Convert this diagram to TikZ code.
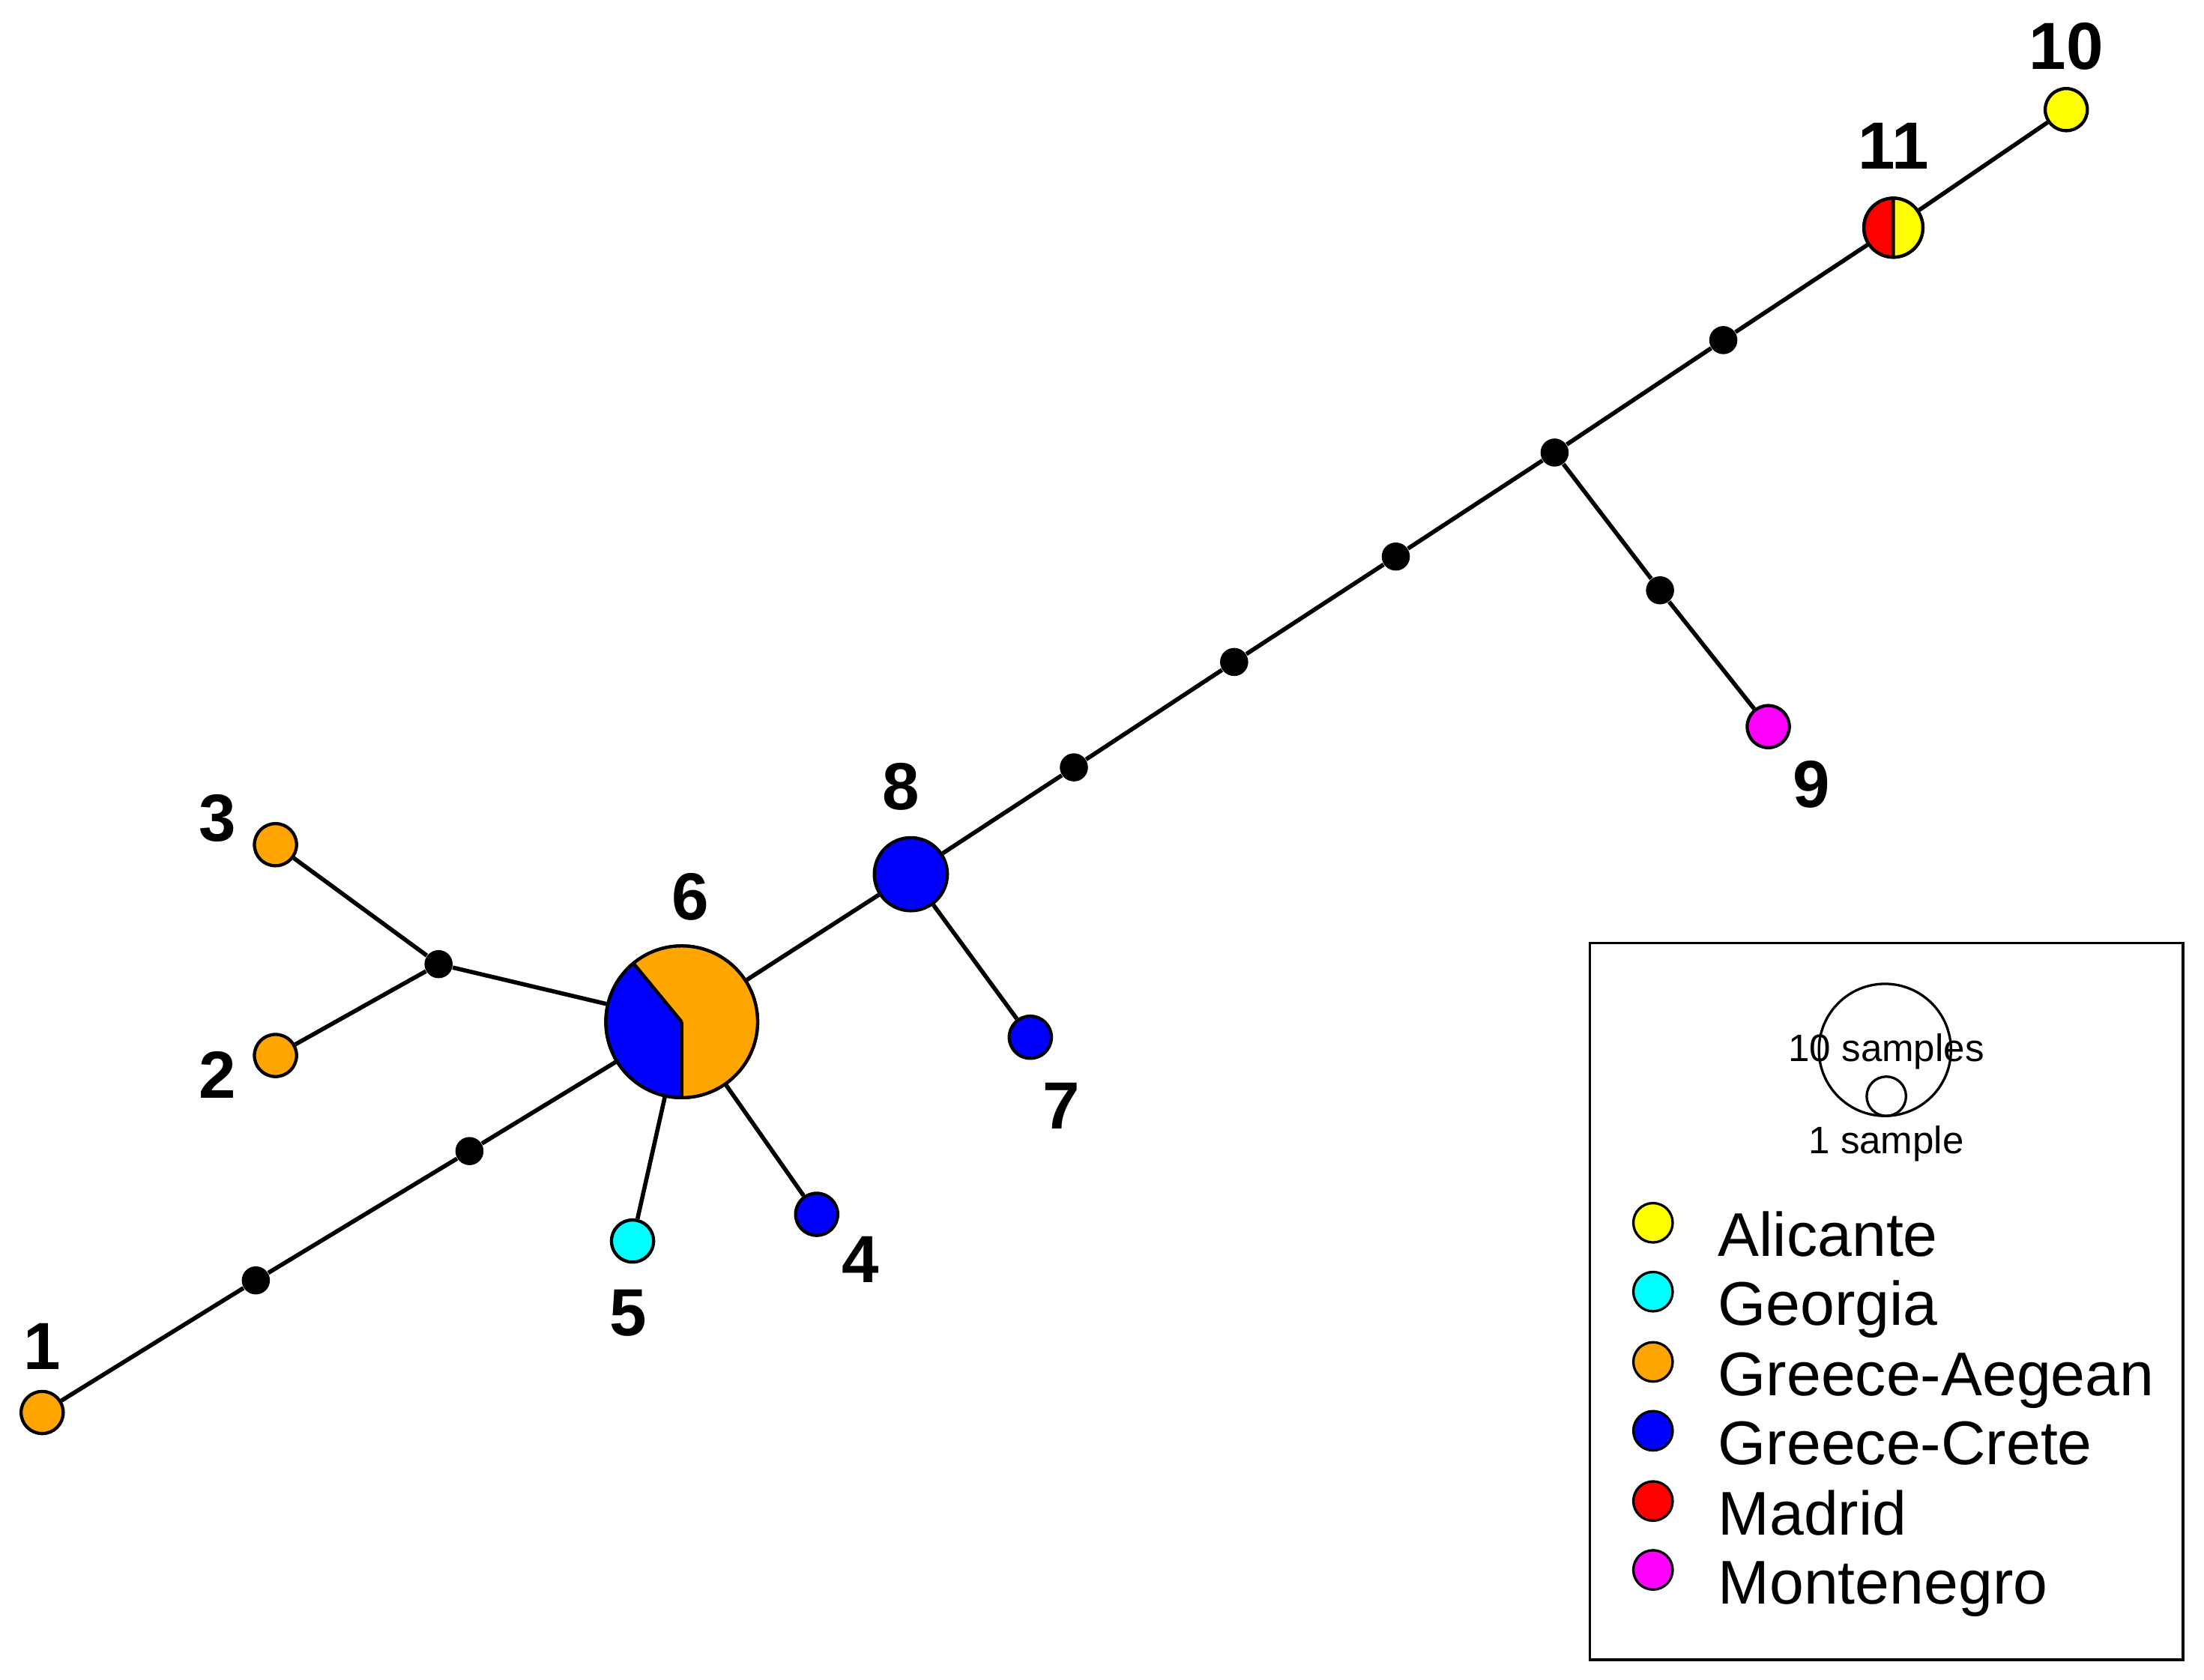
\documentclass[tikz,border=0pt]{standalone}
\usepackage{fontspec}
\setmainfont{Liberation Sans}
\begin{document}
\begin{tikzpicture}[x=0.02cm,y=-0.02cm,
  hap/.style={circle,draw,line width=1.3pt,inner sep=0pt,minimum size=#1*0.04cm},
  med/.style={circle,fill=black,inner sep=0pt,minimum size=0.4cm},
  lab/.style={font=\fontsize{27}{30}\selectfont\bfseries},
  edge/.style={line width=1.7pt},
  leg/.style={font=\fontsize{25}{28}\selectfont,anchor=base west,inner sep=0pt}]
\useasboundingbox (0,0) rectangle (1568,1195);
\definecolor{cor}{RGB}{255,165,0}
\definecolor{cbl}{RGB}{0,0,255}
\definecolor{cye}{RGB}{255,255,0}
\definecolor{ccy}{RGB}{0,255,255}
\definecolor{cre}{RGB}{255,0,0}
\definecolor{cma}{RGB}{255,0,255}
% nodes
\node[hap=15,fill=cor] (n1) at (30,1005) {};
\node[med] (m1) at (182,911) {};
\node[med] (m2) at (334,819) {};
\node[hap=54] (n6) at (485,727) {};
\node[hap=26,fill=cbl] (n8) at (648,622) {};
\node[med] (m3) at (764,546) {};
\node[med] (m4) at (878,471) {};
\node[med] (m5) at (993,396) {};
\node[med] (m6) at (1106,322) {};
\node[med] (m7) at (1226,242) {};
\node[hap=21] (n11) at (1347,162) {};
\node[hap=15,fill=cye] (n10) at (1470,78) {};
\node[med] (m8) at (1181,420) {};
\node[hap=15,fill=cma] (n9) at (1258,517) {};
\node[hap=15,fill=cbl] (n7) at (733,738) {};
\node[hap=15,fill=cbl] (n4) at (581,864) {};
\node[hap=15,fill=ccy] (n5) at (450,883) {};
\node[med] (m9) at (312,686) {};
\node[hap=15,fill=cor] (n3) at (196,601) {};
\node[hap=15,fill=cor] (n2) at (196,751) {};
% edges
\draw[edge] (n1)--(m1)--(m2)--(n6);
\draw[edge] (n6)--(n8)--(m3)--(m4)--(m5)--(m6)--(m7)--(n11)--(n10);
\draw[edge] (m6)--(m8)--(n9);
\draw[edge] (n8)--(n7);
\draw[edge] (n6)--(n4);
\draw[edge] (n6)--(n5);
\draw[edge] (n6)--(m9)--(n3);
\draw[edge] (m9)--(n2);
% pies
\fill[cor] (n6.center) circle[radius=1.08cm];
\fill[cbl] (n6.center) -- ++(129.5:1.08cm) arc[start angle=129.5,end angle=270,radius=1.08cm] -- cycle;
\draw[line width=1.3pt] (n6.center) -- ++(129.5:1.08cm) (n6.center) -- ++(270:1.08cm);
\draw[line width=1.3pt] (n6.center) circle[radius=1.08cm];
\fill[cre] (n11.center) -- ++(90:0.42cm) arc[start angle=90,end angle=270,radius=0.42cm] -- cycle;
\fill[cye] (n11.center) -- ++(90:0.42cm) arc[start angle=90,end angle=-90,radius=0.42cm] -- cycle;
\draw[line width=1.3pt] (n11.center) circle[radius=0.42cm] (n11.north) -- (n11.south);
% labels
\node[lab] (l1) at (30,958) {1};
\node[lab] (l2) at (155,765) {2};
\node[lab] (l3) at (155,582) {3};
\node[lab] (l4) at (612,896) {4};
\node[lab] (l5) at (447,934) {5};
\node[lab] (l6) at (491,638) {6};
\node[lab] (l7) at (755,787) {7};
\node[lab] (l8) at (641,560) {8};
\node[lab] (l9) at (1289,558) {9};
\node[lab] (l10) at (1470,33) {10};
\node[lab] (l11) at (1347,104) {11};
% legend
\draw[line width=1pt] (1131,671) rectangle (1553,1181);
\node[hap=47,line width=1pt] (b1) at (1341,747) {};
\node[hap=14,line width=1pt] (b2) at (1342,780) {};
\node[font=\fontsize{15.5}{18}\selectfont] (t1) at (1342,748) {10 samples};
\node[font=\fontsize{15.5}{18}\selectfont] (t2) at (1342,814) {1 sample};
\foreach \y/\c/\t [count=\i] in {870/cye/Alicante,919/ccy/Georgia,969/cor/Greece-Aegean,1018/cbl/Greece-Crete,1068/cre/Madrid,1117/cma/Montenegro}{
  \node[hap=14,fill=\c,line width=1pt] (k\i) at (1176,\y) {};
  \node[leg] (e\i) at (1222,\y+24) {\t};
}
\end{tikzpicture}
\end{document}
